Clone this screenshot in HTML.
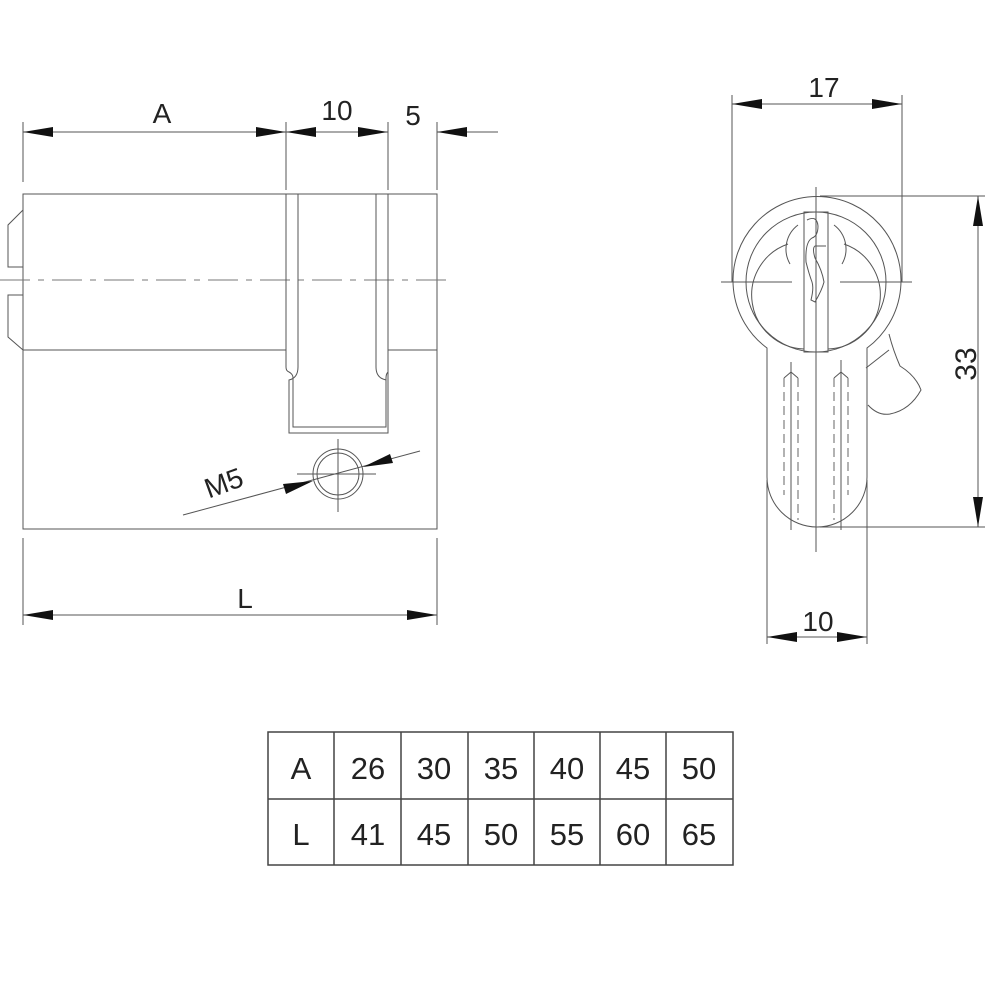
<!DOCTYPE html>
<html><head><meta charset="utf-8"><style>
html,body{margin:0;padding:0;background:#fff;width:1000px;height:1000px;overflow:hidden}
svg{display:block}
text{font-family:"Liberation Sans",sans-serif;fill:#222}
</style></head><body>
<svg width="1000" height="1000" viewBox="0 0 1000 1000" xmlns="http://www.w3.org/2000/svg">
<g stroke="#555" stroke-width="1" fill="none">
<rect x="23" y="194" width="414" height="335"/>
<line x1="23" y1="350" x2="286" y2="350"/>
<line x1="388" y1="350" x2="437" y2="350"/>
<line x1="0" y1="280" x2="448" y2="280" stroke-dasharray="30,8,6,8" stroke="#777"/>
<polyline points="23,210 8,225 8,267 23,267"/>
<polyline points="23,295 8,295 8,337 23,350"/>
<path d="M286,194 V367 Q286,371 289,372 Q293,374 293,378 V427 H386 V378 Q386,374 388,372 V194"/>
<path d="M298,194 V367 Q298,378 289,380 V433 H388 V372"/>
<line x1="376" y1="194" x2="376" y2="367"/>
<path d="M376,367 Q376,378 386,380"/>
<circle cx="338" cy="474" r="25"/>
<circle cx="338" cy="474" r="21"/>
<line x1="338" y1="439" x2="338" y2="512"/>
<line x1="297" y1="474" x2="376" y2="474"/>
<line x1="183" y1="515" x2="420" y2="451"/>
<line x1="23" y1="122" x2="23" y2="182"/>
<line x1="286" y1="122" x2="286" y2="190"/>
<line x1="388" y1="122" x2="388" y2="190"/>
<line x1="437" y1="122" x2="437" y2="190"/>
<line x1="23" y1="132" x2="286" y2="132"/>
<line x1="286" y1="132" x2="388" y2="132"/>
<line x1="437" y1="132" x2="498" y2="132"/>
<line x1="23" y1="538" x2="23" y2="625"/>
<line x1="437" y1="538" x2="437" y2="625"/>
<line x1="23" y1="615" x2="437" y2="615"/>
<path d="M767,348 A84,84 0 1 1 867,348 V477 A50,50 0 0 1 767,477 Z"/>
<circle cx="816" cy="282" r="70"/>
<path d="M804,349 A54,54 0 0 1 788,244 M844,244 A54,54 0 0 1 828,349"/>
<path d="M790,264 A30,30 0 0 1 798,225 M834,225 A30,30 0 0 1 842,264"/>
<rect x="804" y="212" width="24" height="140"/>
<path d="M807,220 Q817,215 818,226 Q818,236 812,238 Q805,242 806,262 Q809,274 812,282 Q814,288 811,300 L815,302 Q822,290 824,282 Q822,270 815,258 Q812,248 815,246 L826,246"/>
<path d="M889,334 Q893,350 900,366 Q916,376 921,390 Q910,410 890,414 Q878,416 868,405"/>
<line x1="866" y1="368" x2="889" y2="350"/>
<g stroke-dasharray="9,5" stroke="#666">
<line x1="784" y1="378" x2="784" y2="495"/><line x1="798" y1="378" x2="798" y2="520"/>
<line x1="834" y1="378" x2="834" y2="520"/><line x1="848" y1="378" x2="848" y2="495"/>
<line x1="816" y1="360" x2="816" y2="540"/>
</g>
<polyline points="784,378 791,372 798,378"/><polyline points="834,378 841,372 848,378"/>
<line x1="791" y1="362" x2="791" y2="530"/><line x1="841" y1="360" x2="841" y2="530"/>
<line x1="816" y1="187" x2="816" y2="552"/>
<line x1="721" y1="282" x2="792" y2="282"/><line x1="840" y1="282" x2="912" y2="282"/>
<line x1="732" y1="95" x2="732" y2="282"/>
<line x1="902" y1="95" x2="902" y2="282"/>
<line x1="732" y1="104" x2="902" y2="104"/>
<line x1="820" y1="196" x2="985" y2="196"/>
<line x1="820" y1="527" x2="985" y2="527"/>
<line x1="978" y1="196" x2="978" y2="527"/>
<line x1="767" y1="480" x2="767" y2="644"/>
<line x1="867" y1="480" x2="867" y2="644"/>
<line x1="767" y1="637" x2="867" y2="637"/>
</g>
<g fill="#111">
<polygon points="23,132 53,127 53,137"/><polygon points="286,132 256,127 256,137"/>
<polygon points="286,132 316,127 316,137"/><polygon points="388,132 358,127 358,137"/>
<polygon points="437,132 467,127 467,137"/>
<polygon points="23,615 53,610 53,620"/><polygon points="437,615 407,610 407,620"/>
<polygon points="732,104 762,99 762,109"/><polygon points="902,104 872,99 872,109"/>
<polygon points="978,196 973,226 983,226"/><polygon points="978,527 973,497 983,497"/>
<polygon points="767,637 797,632 797,642"/><polygon points="867,637 837,632 837,642"/>
<polygon points="313,481 283,484 286,494"/><polygon points="363,467 390,454 393,463"/>
</g>
<text x="162" y="123" font-size="28" text-anchor="middle">A</text>
<text x="337" y="120" font-size="28" text-anchor="middle">10</text>
<text x="413" y="125" font-size="28" text-anchor="middle">5</text>
<text x="245" y="608" font-size="28" text-anchor="middle">L</text>
<text x="227" y="492" font-size="28" text-anchor="middle" transform="rotate(-20 227 492)">M5</text>
<text x="824" y="97" font-size="28" text-anchor="middle">17</text>
<text x="818" y="631" font-size="28" text-anchor="middle">10</text>
<text x="966" y="364" font-size="30" text-anchor="middle" transform="rotate(-90 966 364)" dy="10">33</text>
<g stroke="#444" stroke-width="1.5" fill="none">
<rect x="268" y="732" width="465" height="133"/>
<line x1="268" y1="799" x2="733" y2="799"/>
<line x1="334" y1="732" x2="334" y2="865"/><line x1="401" y1="732" x2="401" y2="865"/>
<line x1="468" y1="732" x2="468" y2="865"/><line x1="534" y1="732" x2="534" y2="865"/>
<line x1="600" y1="732" x2="600" y2="865"/><line x1="666" y1="732" x2="666" y2="865"/>
</g>
<g font-size="31" text-anchor="middle">
<text x="301" y="779">A</text><text x="368" y="779">26</text><text x="434" y="779">30</text><text x="501" y="779">35</text><text x="567" y="779">40</text><text x="633" y="779">45</text><text x="699" y="779">50</text>
<text x="301" y="845">L</text><text x="368" y="845">41</text><text x="434" y="845">45</text><text x="501" y="845">50</text><text x="567" y="845">55</text><text x="633" y="845">60</text><text x="699" y="845">65</text>
</g>
</svg>
</body></html>
